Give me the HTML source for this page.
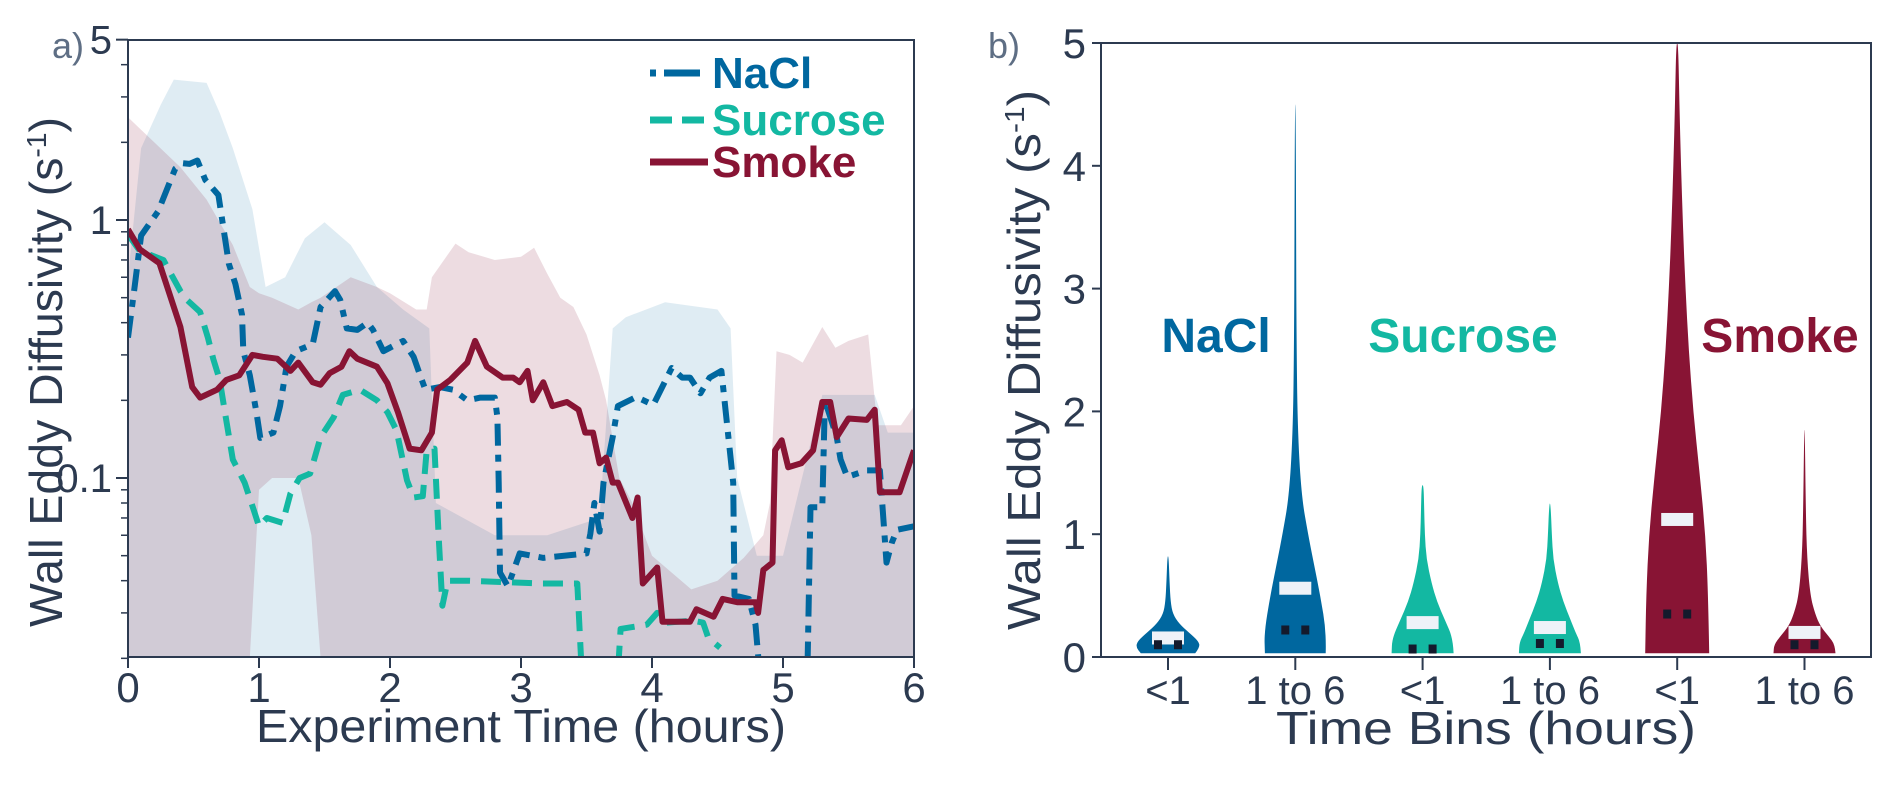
<!DOCTYPE html>
<html><head><meta charset="utf-8">
<style>
html,body{margin:0;padding:0;background:#fff;}
svg{display:block;}
text{font-family:"Liberation Sans Narrow","Liberation Sans",sans-serif;}
</style></head>
<body>
<svg id="chart" width="1892" height="795" viewBox="0 0 1892 795" xmlns="http://www.w3.org/2000/svg">
<defs>
<clipPath id="clipL"><rect x="128" y="40" width="786" height="617"/></clipPath>
</defs>
<g id="panelA"></g>
<g id="panelB"></g>
</svg>
<script>
// ---------- Panel a data ----------
const xTicksA = [0,1,2,3,4,5,6];
const yMajorA = [0.1,1,5];
const yMajorLabelsA = ["0.1","1","5"];
const yMinorA = [0.02,0.03,0.04,0.05,0.06,0.07,0.08,0.09,0.2,0.3,0.4,0.5,0.6,0.7,0.8,0.9,2,3,4];
const naclData = [[0,0.35],[0.05,0.55],[0.1,0.87],[0.23,1.08],[0.36,1.58],[0.42,1.66],[0.47,1.65],[0.53,1.7],[0.59,1.43],[0.69,1.25],[0.77,0.675],[0.82,0.565],[0.87,0.43],[0.88,0.31],[0.93,0.25],[0.98,0.18],[1.01,0.143],[1.11,0.15],[1.16,0.19],[1.21,0.27],[1.28,0.31],[1.41,0.33],[1.47,0.46],[1.58,0.53],[1.62,0.49],[1.67,0.38],[1.75,0.375],[1.83,0.40],[1.87,0.375],[1.95,0.31],[2.05,0.33],[2.10,0.34],[2.18,0.295],[2.23,0.25],[2.27,0.22],[2.38,0.225],[2.48,0.22],[2.59,0.20],[2.69,0.205],[2.80,0.205],[2.82,0.172],[2.83,0.096],[2.84,0.043],[2.90,0.038],[2.99,0.051],[3.17,0.049],[3.50,0.051],[3.53,0.061],[3.56,0.08],[3.60,0.062],[3.63,0.096],[3.70,0.144],[3.74,0.19],[3.88,0.206],[4.01,0.192],[4.15,0.267],[4.23,0.245],[4.29,0.245],[4.37,0.213],[4.44,0.245],[4.53,0.26],[4.62,0.096],[4.63,0.035],[4.74,0.034],[4.79,0.027],[4.85,0.012],[5.18,0.012],[5.21,0.077],[5.30,0.077],[5.32,0.2],[5.41,0.144],[5.44,0.118],[5.49,0.101],[5.64,0.107],[5.74,0.107],[5.79,0.047],[5.83,0.056],[5.87,0.063],[6.0,0.065]];
const sucroseData = [[0,0.88],[0.09,0.76],[0.27,0.70],[0.40,0.53],[0.45,0.49],[0.55,0.44],[0.61,0.35],[0.65,0.29],[0.70,0.24],[0.74,0.18],[0.80,0.118],[0.89,0.096],[0.96,0.075],[1.0,0.065],[1.06,0.07],[1.18,0.067],[1.24,0.087],[1.31,0.10],[1.39,0.104],[1.47,0.144],[1.57,0.172],[1.64,0.21],[1.77,0.22],[1.90,0.20],[1.98,0.18],[2.05,0.153],[2.13,0.098],[2.18,0.084],[2.25,0.085],[2.28,0.128],[2.34,0.13],[2.37,0.061],[2.40,0.032],[2.44,0.040],[2.59,0.040],[3.15,0.039],[3.43,0.039],[3.48,0.012],[3.72,0.012],[3.76,0.026],[3.96,0.027],[4.04,0.030],[4.11,0.0275],[4.31,0.028],[4.39,0.0275],[4.43,0.024],[4.52,0.022]];
const smokeData = [[0,0.92],[0.09,0.77],[0.24,0.68],[0.40,0.385],[0.49,0.225],[0.55,0.205],[0.68,0.22],[0.75,0.24],[0.85,0.25],[0.95,0.30],[1.03,0.295],[1.14,0.29],[1.24,0.26],[1.30,0.28],[1.41,0.235],[1.47,0.23],[1.54,0.255],[1.63,0.27],[1.69,0.31],[1.75,0.29],[1.90,0.27],[1.98,0.233],[2.06,0.18],[2.15,0.13],[2.24,0.128],[2.32,0.15],[2.36,0.22],[2.46,0.24],[2.59,0.28],[2.65,0.34],[2.74,0.27],[2.86,0.245],[2.94,0.245],[2.99,0.235],[3.05,0.26],[3.09,0.20],[3.17,0.235],[3.24,0.19],[3.35,0.197],[3.44,0.184],[3.49,0.15],[3.55,0.15],[3.60,0.114],[3.65,0.12],[3.70,0.096],[3.74,0.096],[3.85,0.07],[3.89,0.084],[3.93,0.039],[4.04,0.045],[4.08,0.0277],[4.29,0.0277],[4.34,0.031],[4.47,0.029],[4.54,0.034],[4.65,0.033],[4.79,0.033],[4.81,0.030],[4.85,0.044],[4.92,0.047],[4.94,0.128],[4.99,0.14],[5.04,0.11],[5.14,0.114],[5.23,0.128],[5.30,0.197],[5.36,0.197],[5.41,0.144],[5.50,0.17],[5.64,0.168],[5.70,0.184],[5.74,0.088],[5.89,0.088],[6.0,0.128]];
// bands: [time, low, high]
const naclBand = [[0,0.02,0.6],[0.1,0.02,1.9],[0.25,0.02,2.8],[0.35,0.02,3.5],[0.6,0.02,3.4],[0.7,0.02,2.6],[0.8,0.02,1.9],[0.95,0.02,1.1],[1.05,0.02,0.55],[1.2,0.02,0.6],[1.35,0.02,0.85],[1.5,0.02,0.98],[1.7,0.02,0.8],[1.9,0.02,0.55],[2.1,0.02,0.45],[2.3,0.02,0.38],[2.35,0.02,0.08],[2.8,0.02,0.06],[3.2,0.02,0.06],[3.6,0.02,0.07],[3.7,0.02,0.38],[3.8,0.02,0.42],[4.1,0.02,0.48],[4.5,0.02,0.45],[4.6,0.02,0.38],[4.65,0.02,0.1],[4.8,0.02,0.05],[5.0,0.02,0.05],[5.3,0.02,0.21],[5.7,0.02,0.21],[5.8,0.02,0.15],[6.0,0.02,0.15]];
const smokeBand = [[0,0.02,2.5],[0.2,0.02,2.0],[0.4,0.02,1.6],[0.6,0.02,1.2],[0.8,0.02,0.8],[0.93,0.02,0.55],[1.0,0.09,0.52],[1.1,0.1,0.5],[1.3,0.1,0.45],[1.4,0.06,0.48],[1.47,0.02,0.5],[1.7,0.02,0.6],[1.9,0.02,0.55],[2.0,0.02,0.52],[2.2,0.02,0.45],[2.28,0.02,0.45],[2.32,0.02,0.6],[2.5,0.02,0.81],[2.6,0.02,0.75],[2.8,0.02,0.7],[3.0,0.02,0.72],[3.1,0.02,0.78],[3.2,0.02,0.62],[3.3,0.02,0.5],[3.4,0.02,0.46],[3.5,0.02,0.36],[3.6,0.02,0.25],[3.65,0.02,0.2],[3.75,0.02,0.1],[3.85,0.02,0.08],[4.0,0.02,0.05],[4.3,0.02,0.037],[4.5,0.02,0.04],[4.7,0.02,0.049],[4.85,0.02,0.06],[4.9,0.02,0.08],[4.95,0.02,0.31],[5.05,0.02,0.3],[5.15,0.02,0.28],[5.3,0.02,0.385],[5.4,0.02,0.32],[5.5,0.02,0.34],[5.65,0.02,0.36],[5.72,0.02,0.16],[5.9,0.02,0.16],[6.0,0.02,0.19]];

// ---------- Panel b data ----------
const binLabels = ["<1","1 to 6","<1","1 to 6","<1","1 to 6"];
const yTicksB = [0,1,2,3,4,5];
const violinLevels = [
 [0.03,0.08,0.13,0.2,0.27,0.35,0.45,0.6,0.82],
 [0.03,0.2,0.5,0.8,1.0,1.3,1.8,2.5,3.5,4.5],
 [0.03,0.15,0.3,0.45,0.6,0.8,1.0,1.2,1.4],
 [0.03,0.12,0.2,0.3,0.45,0.6,0.8,1.0,1.25],
 [0.03,0.5,1.0,1.5,2.0,2.5,3.0,3.5,4.0,4.5,5.0],
 [0.03,0.1,0.17,0.25,0.35,0.5,0.8,1.2,1.85]];
const violinDensity = [
 [0.85,1.0,0.95,0.65,0.35,0.15,0.08,0.05,0.02],
 [0.95,0.97,0.78,0.55,0.4,0.2,0.08,0.04,0.025,0.01],
 [0.97,0.95,0.7,0.45,0.28,0.12,0.07,0.05,0.03],
 [0.97,0.95,0.8,0.65,0.42,0.25,0.1,0.06,0.02],
 [1.0,0.97,0.88,0.7,0.5,0.36,0.26,0.18,0.12,0.07,0.03],
 [0.97,0.95,0.75,0.5,0.33,0.18,0.08,0.04,0.01]];
const medians = [0.155,0.56,0.28,0.24,1.12,0.2];
const dotValues = [0.1,0.22,0.065,0.11,0.35,0.1];

const NS="http://www.w3.org/2000/svg";
const C_NACL="#00679f", C_SUC="#13b8a2", C_SMK="#881434", C_AX="#2c3a50";
function mk(tag, attrs, parent){const e=document.createElementNS(NS,tag);for(const k in attrs)e.setAttribute(k,attrs[k]);if(tag==='text'&&!attrs.fill)e.setAttribute('fill',C_AX);parent.appendChild(e);return e;}

// scales
const xA = t => 128 + t*131;
const yA = v => 220 - 258*Math.log10(v);
const xB = i => 1168 + i*127.3;
const yB = v => 657 - 122.8*v;

const A = document.getElementById('panelA');
function band(data, fill, name){
  let d = data.map((p,i)=>(i?'L':'M')+xA(p[0]).toFixed(1)+','+yA(p[2]).toFixed(1)).join('');
  for(let i=data.length-1;i>=0;i--) d += 'L'+xA(data[i][0]).toFixed(1)+','+yA(data[i][1]).toFixed(1);
  const p = mk('path',{d:d+'Z',fill:fill,'clip-path':'url(#clipL)'},A);
  
  
}
band(naclBand,'rgba(0,103,160,0.125)','nacl-range-band');
band(smokeBand,'rgba(135,18,52,0.15)','smoke-range-band');
function line(data, color, dash, name){
  const d = data.map((p,i)=>(i?'L':'M')+xA(p[0]).toFixed(1)+','+yA(p[1]).toFixed(1)).join('');
  const attrs = {d:d,fill:'none',stroke:color,'stroke-width':6,'stroke-linejoin':'round','clip-path':'url(#clipL)'};
  if(dash) attrs['stroke-dasharray']=dash;
  const p = mk('path',attrs,A);
  
  
}
line(naclData,C_NACL,'22 9 7 9','nacl-line');
line(sucroseData,C_SUC,'20 11','sucrose-line');
line(smokeData,C_SMK,null,'smoke-line');
const fa = mk('rect',{x:128,y:40,width:786,height:617,fill:'none',stroke:C_AX,'stroke-width':2},A);
 
xTicksA.forEach(t=>{
  mk('line',{x1:xA(t),x2:xA(t),y1:657,y2:668,stroke:C_AX,'stroke-width':2},A);
  const tx = mk('text',{x:xA(t),y:702,'font-size':42,'text-anchor':'middle'},A);
  tx.textContent=String(t);
   
});
yMajorA.forEach((v,i)=>{
  mk('line',{x1:116,x2:128,y1:yA(v),y2:yA(v),stroke:C_AX,'stroke-width':2},A);
  const tx = mk('text',{x:112,y:yA(v)+14,'font-size':40,'text-anchor':'end'},A);
  tx.textContent=yMajorLabelsA[i];
   
});
yMinorA.forEach(v=>{ mk('line',{x1:121,x2:128,y1:yA(v),y2:yA(v),stroke:C_AX,'stroke-width':1.5},A); });
let t1 = mk('text',{x:521,y:742,'font-size':46,'text-anchor':'middle','font-family':'Liberation Sans, sans-serif',textLength:530,lengthAdjust:'spacingAndGlyphs'},A);
t1.textContent='Experiment Time (hours)';
 
let t2 = mk('text',{x:0,y:0,'font-size':46,'text-anchor':'middle','font-family':'Liberation Sans, sans-serif',transform:'translate(62,372) rotate(-90)',textLength:510,lengthAdjust:'spacingAndGlyphs'},A);
t2.innerHTML='Wall Eddy Diffusivity (s<tspan dy="-16" font-size="28">-1</tspan><tspan dy="16">)</tspan>';
 
let la = mk('text',{x:52,y:58,'font-size':36,fill:'#5e6e84'},A);
la.textContent='a)';  
const legItems=[["NaCl",C_NACL,'6 8 30 0',73],["Sucrose",C_SUC,'22 10',120],["Smoke",C_SMK,null,162]];
legItems.forEach(it=>{
  const g = mk('g',{},A);
   
  const a={x1:650,x2:708,y1:it[3],y2:it[3],stroke:it[1],'stroke-width':7};
  if(it[2]) a['stroke-dasharray']=it[2];
  mk('line',a,g);
  const tx=mk('text',{x:712,y:it[3]+15,'font-size':44,'font-weight':'bold',fill:it[1]},g);
  tx.textContent=it[0];
});

// ---------- Panel b ----------
const B = document.getElementById('panelB');
const vColors=[C_NACL,C_NACL,C_SUC,C_SUC,C_SMK,C_SMK];
violinLevels.forEach((lv,i)=>{
  const cx=xB(i), dens=violinDensity[i], W=32;
  let right = lv.map((v,k)=>[cx+dens[k]*W, yB(v)]);
  let left = lv.map((v,k)=>[cx-dens[k]*W, yB(v)]).reverse();
  const pts = right.concat(left);
  let d='M'+pts[0][0].toFixed(1)+','+pts[0][1].toFixed(1);
  for(let k=1;k<pts.length-1;k++){
    const mx=(pts[k][0]+pts[k+1][0])/2, my=(pts[k][1]+pts[k+1][1])/2;
    d+='Q'+pts[k][0].toFixed(1)+','+pts[k][1].toFixed(1)+' '+mx.toFixed(1)+','+my.toFixed(1);
  }
  d+='L'+pts[pts.length-1][0].toFixed(1)+','+pts[pts.length-1][1].toFixed(1)+'Z';
  const p=mk('path',{d:d,fill:vColors[i]},B);
   
  const m=mk('rect',{x:cx-16,y:yB(medians[i])-6.5,width:32,height:13,fill:'#eef2f8'},B);
   
  [-10,10].forEach(o=>{
    const q=mk('rect',{x:cx+o-4,y:yB(dotValues[i])-4.5,width:8,height:9,fill:'#141a2c'},B);
     
  });
  mk('line',{x1:cx,x2:cx,y1:657,y2:670,stroke:C_AX,'stroke-width':2},B);
  const tx=mk('text',{x:cx,y:704,'font-size':40,'text-anchor':'middle'},B);
  tx.textContent=binLabels[i];
   
});
const fb=mk('rect',{x:1101,y:43,width:770,height:614,fill:'none',stroke:C_AX,'stroke-width':2},B);
 
yTicksB.forEach(v=>{
  mk('line',{x1:1092,x2:1101,y1:yB(v),y2:yB(v),stroke:C_AX,'stroke-width':2},B);
  const tx=mk('text',{x:1086,y:yB(v)+15,'font-size':42,'text-anchor':'end'},B);
  tx.textContent=String(v);
   
});
let t3 = mk('text',{x:1486,y:744,'font-size':46,'text-anchor':'middle','font-family':'Liberation Sans, sans-serif',textLength:420,lengthAdjust:'spacingAndGlyphs'},B);
t3.textContent='Time Bins (hours)';
 
let t4 = mk('text',{x:0,y:0,'font-size':46,'text-anchor':'middle','font-family':'Liberation Sans, sans-serif',transform:'translate(1040,360) rotate(-90)',textLength:540,lengthAdjust:'spacingAndGlyphs'},B);
t4.innerHTML='Wall Eddy Diffusivity (s<tspan dy="-16" font-size="28">-1</tspan><tspan dy="16">)</tspan>';
 
let lb = mk('text',{x:988,y:58,'font-size':36,fill:'#5e6e84'},B);
lb.textContent='b)';  
[["NaCl",1216,C_NACL],["Sucrose",1463,C_SUC],["Smoke",1780,C_SMK]].forEach(s=>{
  const tx=mk('text',{x:s[1],y:352,'font-size':48,'font-weight':'bold','text-anchor':'middle',fill:s[2]},B);
  tx.textContent=s[0];
   
});
</script>
</body></html>
